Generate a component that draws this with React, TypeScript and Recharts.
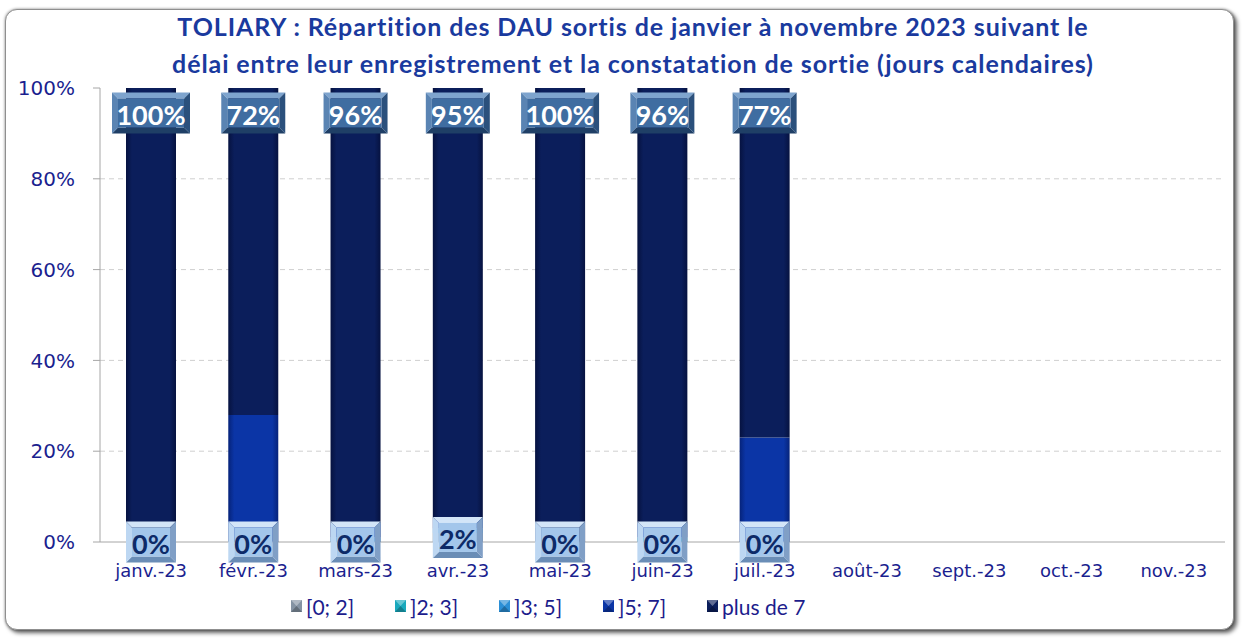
import React from 'react';
import { BarChart, Bar, XAxis, YAxis, CartesianGrid, Legend, LabelList, ReferenceLine } from 'recharts';

const categories = ['janv.-23', 'févr.-23', 'mars-23', 'avr.-23', 'mai-23', 'juin-23', 'juil.-23', 'août-23', 'sept.-23', 'oct.-23', 'nov.-23'];
const s0to2 = [0, 0, 0, 2, 0, 0, 0, null, null, null, null];
const s2to3 = [0, 0, 0, 0, 0, 1, 0, null, null, null, null];
const s3to5 = [0, 0, 1, 1, 0, 0, 0, null, null, null, null];
const s5to7 = [0, 28, 3, 2, 0, 3, 23, null, null, null, null];
const sOver7 = [100, 72, 96, 95, 100, 96, 77, null, null, null, null];

const seriesKeys = ['s02', 's23', 's35', 's57', 's7'];
const seriesNames = ['[0; 2]', ']2; 3]', ']3; 5]', ']5; 7]', 'plus de 7'];
const seriesColors = ['#8593a3', '#1aa9bd', '#2b8fd6', '#0b35a6', '#0b1e5b'];
const seriesEdges = ['#5d6975', '#0f7f8f', '#1a69a8', '#06237a', '#061240'];
const yTicks = [0, 20, 40, 60, 80, 100];
const tickBounds = [0, 1, 2, 3, 4, 5, 6, 7, 8, 9, 10, 11];

const data = categories.map((c, i) => ({
  cat: c,
  s02: s0to2[i],
  s23: s2to3[i],
  s35: s3to5[i],
  s57: s5to7[i],
  s7: sOver7[i],
}));

const AXIS_TEXT = '#1b1f8f';

function Bevel(props: any) {
  const { cx, cy, w, h, t, face, top, bottom, left, right, color, text, fontSize } = props;
  const x0 = cx - w / 2, y0 = cy - h / 2, x1 = cx + w / 2, y1 = cy + h / 2;
  const ix0 = x0 + t, iy0 = y0 + t, ix1 = x1 - t, iy1 = y1 - t;
  return (
    <g>
      <polygon points={`${x0},${y0} ${x1},${y0} ${ix1},${iy0} ${ix0},${iy0}`} fill={top} />
      <polygon points={`${x0},${y1} ${x1},${y1} ${ix1},${iy1} ${ix0},${iy1}`} fill={bottom} />
      <polygon points={`${x0},${y0} ${ix0},${iy0} ${ix0},${iy1} ${x0},${y1}`} fill={left} />
      <polygon points={`${x1},${y0} ${ix1},${iy0} ${ix1},${iy1} ${x1},${y1}`} fill={right} />
      <rect x={ix0} y={iy0} width={ix1 - ix0} height={iy1 - iy0} fill={face} />
      <text
        x={cx}
        y={cy + 1}
        textAnchor="middle"
        dominantBaseline="central"
        fill={color}
        style={{ fontFamily: 'Lato, sans-serif', fontWeight: 700, fontSize }}
      >
        {text}
      </text>
    </g>
  );
}

function boxWidth(v: number) {
  const digits = String(v).length;
  return 36 + 14 * digits;
}

const BottomLabel = (props: any) => {
  const { x, y, width, height, value } = props;
  if (value === null || value === undefined) return null;
  const cx = Number(x) + Number(width) / 2;
  const cy = Number(value) === 0 ? Number(y) + Number(height) : Number(y) + Number(height) / 2;
  return (
    <Bevel
      cx={cx}
      cy={cy}
      w={boxWidth(value)}
      h={41}
      t={6}
      face="#a3c6eb"
      top="#d3e5f8"
      bottom="#6a8db6"
      left="#bdd7f2"
      right="#809fc6"
      color="#0d2a68"
      text={`${value}%`}
      fontSize={27}
    />
  );
};

const TopLabel = (props: any) => {
  const { x, y, width, value } = props;
  if (value === null || value === undefined) return null;
  const cx = Number(x) + Number(width) / 2;
  const cy = Number(y) + 25;
  return (
    <Bevel
      cx={cx}
      cy={cy}
      w={boxWidth(value)}
      h={41}
      t={6}
      face="#3f6da1"
      top="#7ea4ce"
      bottom="#1f3f66"
      left="#5a84b3"
      right="#2b507c"
      color="#ffffff"
      text={`${value}%`}
      fontSize={27}
    />
  );
};

const LegendContent = () => (
  <div style={{ position: 'relative', width: 1242, height: 30 }}>
    {seriesNames.map((n, i) => (
      <div
        key={n}
        style={{
          position: 'absolute',
          left: 291 + i * 104,
          top: 0,
          height: 30,
          display: 'flex',
          alignItems: 'center',
          fontFamily: 'Lato, sans-serif',
          fontSize: 21,
          color: '#1c1c8c',
          whiteSpace: 'nowrap',
        }}
      >
        <svg width={11} height={12} style={{ marginRight: 4 }}>
          <rect x={0} y={0} width={11} height={12} fill={seriesColors[i]} />
          <polygon points="0,0 11,0 5.5,6" fill="#ffffff" opacity={0.35} />
          <polygon points="0,12 11,12 5.5,6" fill="#000000" opacity={0.25} />
        </svg>
        <span>{n}</span>
      </div>
    ))}
  </div>
);

const minSize = (_v: any, index: number) => (s0to2[index] === 0 ? 1 : 0);

export default function App() {
  return (
    <div style={{ position: 'absolute', left: 0, top: 0, width: 1242, height: 641, background: '#ffffff', overflow: 'hidden' }}>
      <div
        style={{
          position: 'absolute',
          left: 5,
          top: 9,
          width: 1227,
          height: 619,
          border: '1.5px solid #8f8f8f',
          borderRadius: 12,
          boxShadow: '0 0 3px rgba(0,0,0,0.45), 3px 3px 4px rgba(0,0,0,0.6)',
          background: '#ffffff',
        }}
      />
      <div
        style={{
          position: 'absolute',
          left: 12,
          top: 8,
          width: 1242,
          textAlign: 'center',
          fontFamily: 'Lato, sans-serif',
          fontWeight: 700,
          fontSize: 25,
          letterSpacing: 0.9,
          lineHeight: '37px',
          color: '#1a3a9e',
        }}
      >
        TOLIARY : Répartition des DAU sortis de janvier à novembre 2023 suivant le
        <br />
        délai entre leur enregistrement et la constatation de sortie (jours calendaires)
      </div>
      <div style={{ position: 'absolute', left: 0, top: 0 }}>
        <BarChart
          width={1242}
          height={641}
          data={data}
          margin={{ top: 88, right: 17, bottom: 39, left: 10 }}
          barSize={50}
        >
          <defs>
            {seriesKeys.map((k, i) => (
              <linearGradient key={k} id={`grad-${k}`} x1="0" y1="0" x2="1" y2="0">
                <stop offset="0%" stopColor={seriesEdges[i]} />
                <stop offset="12%" stopColor={seriesColors[i]} />
                <stop offset="88%" stopColor={seriesColors[i]} />
                <stop offset="100%" stopColor={seriesEdges[i]} />
              </linearGradient>
            ))}
          </defs>
          <CartesianGrid
            vertical={false}
            strokeDasharray="5 4"
            stroke="#cfcfcf"
            horizontalValues={[20, 40, 60, 80]}
          />
          <XAxis
            xAxisId="bounds"
            type="number"
            domain={[0, 11]}
            ticks={tickBounds}
            tick={false}
            tickSize={7}
            axisLine={false}
            tickLine={{ stroke: '#a6a6a6' }}
            height={0}
            allowDataOverflow
          />
          <XAxis
            dataKey="cat"
            tickLine={false}
            tickSize={0}
            tickMargin={22}
            height={30}
            axisLine={{ stroke: '#a6a6a6' }}
            interval={0}
            tick={{ fill: AXIS_TEXT, fontFamily: 'DejaVu Sans, sans-serif', fontSize: 18 }}
          />
          <YAxis
            domain={[0, 100]}
            ticks={yTicks}
            tickFormatter={(v: number) => `${v}%`}
            width={90}
            tickSize={7}
            tickMargin={18}
            axisLine={{ stroke: '#a6a6a6' }}
            tickLine={{ stroke: '#a6a6a6' }}
            tick={{ fill: AXIS_TEXT, fontFamily: 'DejaVu Sans, sans-serif', fontSize: 20 }}
          />
          <ReferenceLine xAxisId="bounds" x={11} stroke="#d9d9d9" />
          {seriesKeys.map((k, i) => (
            <Bar
              key={k}
              dataKey={k}
              name={seriesNames[i]}
              stackId="a"
              fill={`url(#grad-${k})`}
              isAnimationActive={false}
              minPointSize={i === 0 ? minSize : 0}
            >
              {i === 0 && <LabelList dataKey={k} content={BottomLabel} />}
              {i === 4 && <LabelList dataKey={k} content={TopLabel} />}
            </Bar>
          ))}
          <Legend
            content={LegendContent}
            wrapperStyle={{ left: 0, top: 591, width: 1242, height: 30 }}
          />
        </BarChart>
      </div>
    </div>
  );
}
